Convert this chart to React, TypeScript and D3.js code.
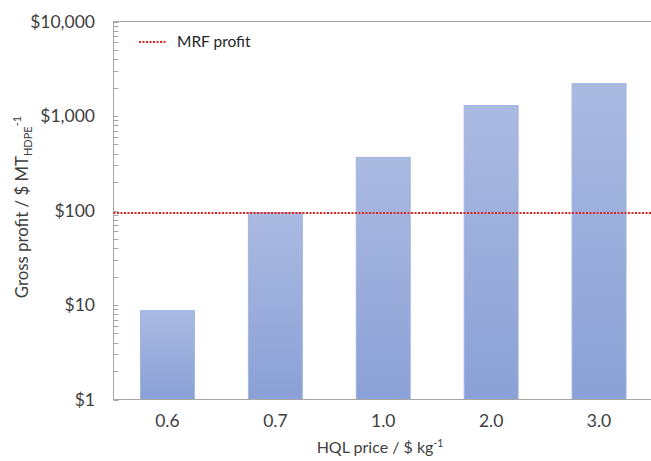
import React, { useEffect, useRef } from 'react';
import * as d3 from 'd3';

const categories = ['0.6', '0.7', '1.0', '2.0', '3.0'];
const profits = [8.7, 95, 365, 1290, 2200];
const mrfProfit = 94;
const yTickValues = [1, 10, 100, 1000, 10000];

const W = 651;
const H = 461;

export default function App() {
  const ref = useRef<SVGSVGElement>(null);

  useEffect(() => {
    const svg = d3.select(ref.current);
    svg.selectAll('*').remove();

    const left = 113.5, right = 653, top = 21.5, bottom = 399.5;
    const font = 'Lato, "Open Sans", sans-serif';

    const x = d3.scaleBand().domain(categories).range([left, right])
      .paddingInner(0.5).paddingOuter(0.25);
    const y = d3.scaleLog().domain([1, 10000]).range([bottom, top]);

    const defs = svg.append('defs');
    const grad = defs.append('linearGradient')
      .attr('id', 'barGrad').attr('x1', 0).attr('y1', 0).attr('x2', 0).attr('y2', 1);
    grad.append('stop').attr('offset', '0%').attr('stop-color', '#abbae1');
    grad.append('stop').attr('offset', '100%').attr('stop-color', '#8aa0d6');

    // bars
    svg.append('g').selectAll('rect')
      .data(profits)
      .join('rect')
      .attr('x', (d, i) => x(categories[i]))
      .attr('y', d => y(d))
      .attr('width', x.bandwidth())
      .attr('height', d => bottom - y(d))
      .attr('fill', 'url(#barGrad)')
      .attr('stroke', '#9fb4e4')
      .attr('stroke-width', 1);

    // frame
    svg.append('rect')
      .attr('x', left).attr('y', top)
      .attr('width', right - left).attr('height', bottom - top)
      .attr('fill', 'none').attr('stroke', '#a6a6a6').attr('stroke-width', 1);

    // minor ticks (inside)
    const minor: number[] = [];
    for (let dec = 1; dec < 10000; dec *= 10) {
      for (let k = 1; k <= 9; k++) minor.push(dec * k);
    }
    minor.push(10000);
    svg.append('g').selectAll('line')
      .data(minor)
      .join('line')
      .attr('x1', left).attr('x2', left + 5)
      .attr('y1', d => Math.round(y(d)) + 0.5).attr('y2', d => Math.round(y(d)) + 0.5)
      .attr('stroke', '#a6a6a6').attr('stroke-width', 1);

    // y tick labels
    svg.append('g').selectAll('text')
      .data(yTickValues)
      .join('text')
      .attr('x', 95)
      .attr('y', d => y(d))
      .attr('dy', '0.35em')
      .attr('text-anchor', 'end')
      .attr('font-family', font)
      .attr('font-size', 17.5)
      .attr('fill', '#404040')
      .text(d => '$' + d3.format(',')(d));

    // x tick labels
    svg.append('g').selectAll('text')
      .data(categories)
      .join('text')
      .attr('x', d => x(d)! + x.bandwidth() / 2)
      .attr('y', 427)
      .attr('text-anchor', 'middle')
      .attr('font-family', font)
      .attr('font-size', 17.5)
      .attr('fill', '#404040')
      .text(d => d);

    // MRF line
    svg.append('line')
      .attr('x1', left).attr('x2', right)
      .attr('y1', y(mrfProfit)).attr('y2', y(mrfProfit))
      .attr('stroke', '#e02424').attr('stroke-width', 2)
      .attr('stroke-dasharray', '2 1.5');

    // legend
    svg.append('line')
      .attr('x1', 139).attr('x2', 167).attr('y1', 42).attr('y2', 42)
      .attr('stroke', '#e02424').attr('stroke-width', 2)
      .attr('stroke-dasharray', '2 1.5');
    svg.append('text')
      .attr('x', 177).attr('y', 42).attr('dy', '0.35em')
      .attr('font-family', font).attr('font-size', 15.5).attr('fill', '#262626')
      .text('MRF profit');

    // x title
    const xt = svg.append('text')
      .attr('x', 380).attr('y', 453)
      .attr('text-anchor', 'middle')
      .attr('font-family', font).attr('font-size', 16).attr('fill', '#404040');
    xt.append('tspan').text('HQL price / $ kg');
    xt.append('tspan').attr('font-size', 10.5).attr('dy', -6).text('-1');

    // y title
    const yt = svg.append('text')
      .attr('transform', 'translate(22,207) rotate(-90)')
      .attr('text-anchor', 'middle')
      .attr('dy', '0.35em')
      .attr('font-family', font).attr('font-size', 16.8).attr('fill', '#404040');
    yt.append('tspan').text('Gross profit / $ MT');
    yt.append('tspan').attr('font-size', 11).attr('dy', 4).text('HDPE');
    yt.append('tspan').attr('font-size', 11).attr('dy', -11).text('-1');
  }, []);

  return (
    <svg
      ref={ref}
      width={W}
      height={H}
      style={{ position: 'fixed', left: 0, top: 0, background: '#fff' }}
    />
  );
}
